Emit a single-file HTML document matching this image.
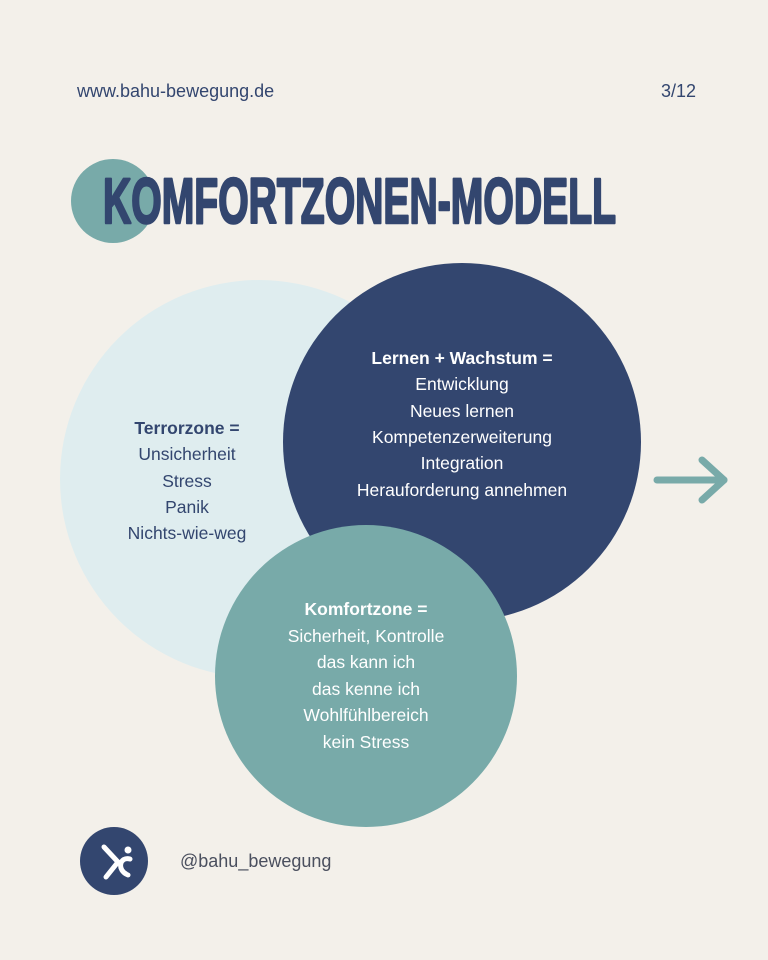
<!DOCTYPE html>
<html><head><meta charset="utf-8"><style>
html,body{margin:0;padding:0;background:#f3f0ea;}
svg{display:block;font-family:"Liberation Sans",sans-serif;}
</style></head><body>
<svg width="768" height="960" viewBox="0 0 768 960">
<rect width="768" height="960" fill="#f3f0ea"/>
<text x="77" y="97" font-size="18" fill="#33466f">www.bahu-bewegung.de</text>
<text x="696" y="97" font-size="18" fill="#33466f" text-anchor="end">3/12</text>
<circle cx="113" cy="201" r="42" fill="#78aaa9"/>
<text x="103" y="223" font-size="64" font-weight="bold" fill="#33466f" stroke="#33466f" stroke-width="2.5" stroke-linejoin="round" textLength="513" lengthAdjust="spacingAndGlyphs">KOMFORTZONEN-MODELL</text>
<circle cx="259" cy="479" r="199" fill="#dfedef"/>
<circle cx="462" cy="442" r="179" fill="#33466f"/>
<circle cx="366" cy="676" r="151" fill="#78aaa9"/>
<g font-size="17.5" text-anchor="middle" fill="#33466f">
<text x="187" y="434" font-weight="bold">Terrorzone =</text>
<text x="187" y="460">Unsicherheit</text>
<text x="187" y="487">Stress</text>
<text x="187" y="513">Panik</text>
<text x="187" y="539">Nichts-wie-weg</text>
</g>
<g font-size="17.5" text-anchor="middle" fill="#ffffff">
<text x="462" y="364" font-weight="bold">Lernen + Wachstum =</text>
<text x="462" y="390">Entwicklung</text>
<text x="462" y="417">Neues lernen</text>
<text x="462" y="443">Kompetenzerweiterung</text>
<text x="462" y="469">Integration</text>
<text x="462" y="496">Herauforderung annehmen</text>
<text x="366" y="615" font-weight="bold">Komfortzone =</text>
<text x="366" y="642">Sicherheit, Kontrolle</text>
<text x="366" y="668">das kann ich</text>
<text x="366" y="695">das kenne ich</text>
<text x="366" y="721">Wohlfühlbereich</text>
<text x="366" y="748">kein Stress</text>
</g>
<g stroke="#78aaa9" stroke-width="7" stroke-linecap="round" stroke-linejoin="round" fill="none">
<line x1="657" y1="480" x2="724" y2="480"/>
<polyline points="702,460 724,480 702,500"/>
</g>
<circle cx="114" cy="861" r="34" fill="#33466f"/>
<g stroke="#fff" stroke-width="5" stroke-linecap="round" fill="none">
<path d="M104 847 L118 862 L106 877"/>
<path d="M130 859 C120 856 116 870 128 875"/>
</g>
<circle cx="128" cy="850" r="3.5" fill="#fff"/>
<text x="180" y="867" font-size="18" fill="#4a4f5e">@bahu_bewegung</text>
</svg>
</body></html>
